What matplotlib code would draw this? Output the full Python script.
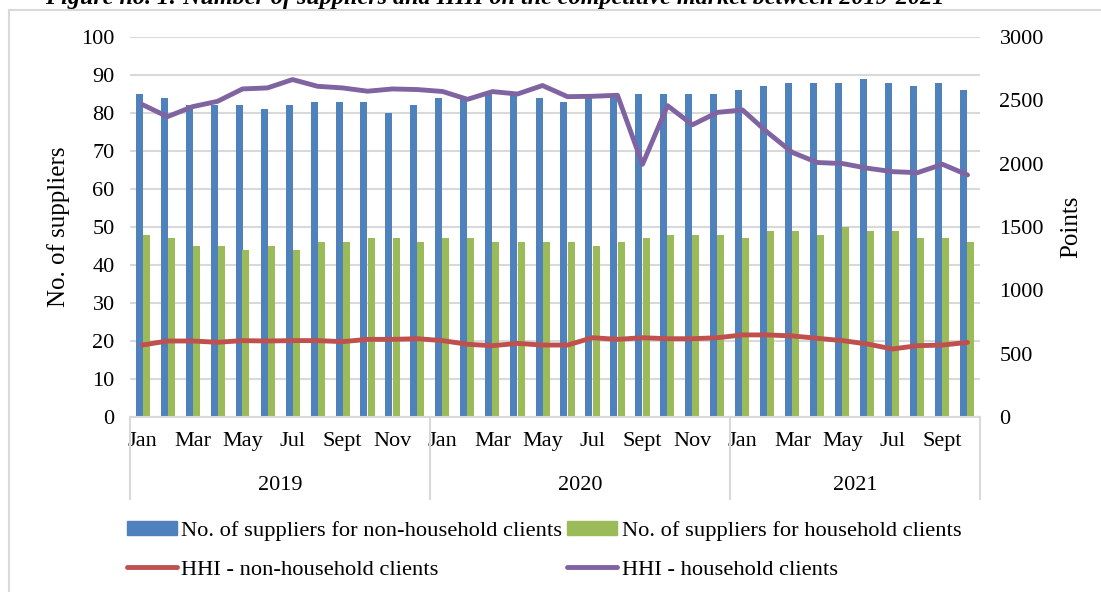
import matplotlib
matplotlib.use("Agg")
import matplotlib.pyplot as plt
import matplotlib.patches as mpatches
import matplotlib.lines as mlines
import matplotlib.transforms as mtransforms
import numpy as np

plt.rcParams['font.family'] = ['Liberation Serif', 'DejaVu Serif']

years = ['2019', '2020', '2021']
months_per_year = [12, 12, 10]
month_labels = ['Jan', '', 'Mar', '', 'May', '', 'Jul', '', 'Sept', '', 'Nov', '']

# number of suppliers (left axis)
non_household = [85, 84, 82, 82, 82, 81, 82, 83, 83, 83, 80, 82,
                 84, 84, 85, 85, 84, 83, 84, 85, 85, 85, 85, 85,
                 86, 87, 88, 88, 88, 89, 88, 87, 88, 86]
household = [48, 47, 45, 45, 44, 45, 44, 46, 46, 47, 47, 46,
             47, 47, 46, 46, 46, 46, 45, 46, 47, 48, 48, 48,
             47, 49, 49, 48, 50, 49, 49, 47, 47, 46]

# HHI (right axis, points)
hhi_non_household = [568, 600, 600, 590, 603, 600, 603, 603, 595, 613, 613, 618,
                     603, 574, 563, 581, 568, 568, 626, 613, 626, 618, 618, 626,
                     648, 648, 640, 621, 603, 576, 537, 563, 568, 589]
hhi_household = [2466, 2371, 2450, 2492, 2590, 2598, 2664, 2611, 2598, 2572, 2590, 2585,
                 2570, 2508, 2569, 2550, 2617, 2529, 2532, 2540, 1995, 2458, 2307, 2405,
                 2424, 2247, 2088, 2009, 2001, 1964, 1937, 1929, 1995, 1911]

blue = '#4f81bd'
green = '#9bbb59'
red = '#c0504d'
purple = '#8064a2'
grid_col = '#d9d9d9'

n = len(non_household)
x = np.arange(n)

fig = plt.figure(figsize=(11.01, 5.92), dpi=100)
ax = fig.add_axes([130 / 1101, 1 - 417 / 592, 850 / 1101, 380 / 592])

# outer frame of the chart
fig.patches.append(mpatches.Rectangle((9 / 1101, -0.05), 1.2, 1 - 10 / 592 + 0.05,
                                      transform=fig.transFigure, fill=False,
                                      edgecolor=grid_col, linewidth=1.5))

w = 0.28
ax.bar(x - w / 2, non_household, w, color=blue, zorder=2)
ax.bar(x + w / 2, household, w, color=green, zorder=2)
ax.set_ylim(0, 100)
ax.set_xlim(-0.5, n - 0.5)
ax.set_yticks(range(0, 101, 10))
ax.yaxis.grid(True, color=grid_col, linewidth=1.5, zorder=0)
ax.set_axisbelow(True)
for s in ['top', 'right', 'left']:
    ax.spines[s].set_visible(False)
ax.spines['bottom'].set_color(grid_col)
ax.spines['bottom'].set_linewidth(1.5)
ax.tick_params(axis='y', length=0, labelsize=16, pad=11)
ax.set_ylabel('No. of suppliers', fontsize=18, labelpad=8)

ax2 = ax.twinx()
ax2.plot(x, hhi_non_household, color=red, linewidth=3.5, solid_capstyle='round', zorder=3)
ax2.plot(x, hhi_household, color=purple, linewidth=3.5, solid_capstyle='round', zorder=3)
ax2.set_ylim(0, 3000)
ax2.set_yticks(range(0, 3001, 500))
for s in ['top', 'right', 'left', 'bottom']:
    ax2.spines[s].set_visible(False)
ax2.tick_params(axis='y', length=0, labelsize=16, pad=14)
ax2.set_ylabel('Points', fontsize=18, labelpad=12)

# two-level category axis
labels = []
for m in months_per_year:
    labels += month_labels[:m]
ax.set_xticks(x)
ax.set_xticklabels(labels, fontsize=16)
ax.tick_params(axis='x', length=0, pad=11)

trans = mtransforms.blended_transform_factory(ax.transData, ax.transAxes)
start = 0
bounds = [-0.5]
for yr, m in zip(years, months_per_year):
    ax.text(start + (m - 1) / 2, -0.18, yr, transform=trans, ha='center', va='center',
            fontsize=16)
    start += m
    bounds.append(start - 0.5)
for b in bounds:
    ax.plot([b, b], [0, -0.216], transform=trans, color=grid_col, linewidth=1.5,
            clip_on=False)

fig.text(45 / 1101, 1 - 4 / 592,
         'Figure no. 1: Number of suppliers and HHI on the competitive market between 2019-2021',
         fontsize=17.4, fontweight='bold', fontstyle='italic', ha='left', va='baseline')

handles = [mpatches.Patch(color=blue),
           mlines.Line2D([], [], color=red, linewidth=3.5, solid_capstyle='round'),
           mpatches.Patch(color=green),
           mlines.Line2D([], [], color=purple, linewidth=3.5, solid_capstyle='round')]
names = ['No. of suppliers for non-household clients', 'HHI - non-household clients',
         'No. of suppliers for household clients', 'HHI - household clients']
fig.legend(handles, names, ncol=2, loc='upper left',
           bbox_to_anchor=(127 / 1101, 1 - 521 / 592), frameon=False, fontsize=16.2,
           borderpad=0, handlelength=2.2, handleheight=0.55, handletextpad=0.22,
           columnspacing=0.2, labelspacing=0.85, borderaxespad=0)

fig.savefig('out.png', dpi=100)
